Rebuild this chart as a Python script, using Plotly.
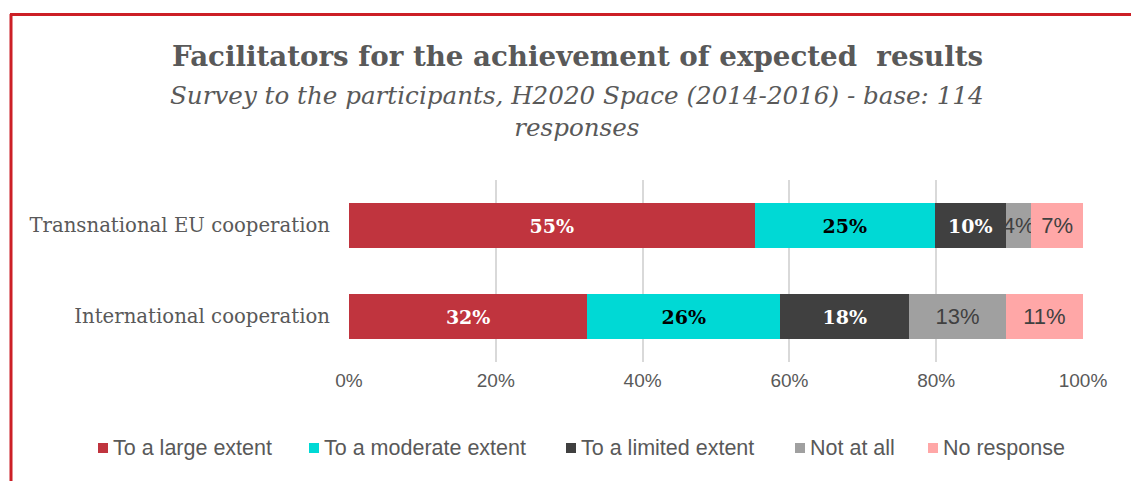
import plotly.graph_objects as go

# Survey results (share of 114 responses)
categories = ["Transnational EU cooperation", "International cooperation"]
series_names = ["To a large extent", "To a moderate extent", "To a limited extent",
                "Not at all", "No response"]
large_extent = [0.5526, 0.3246]
moderate_extent = [0.2456, 0.2632]
limited_extent = [0.0965, 0.1754]
not_at_all = [0.0351, 0.1316]
no_response = [0.0702, 0.1053]
x_ticks = [0, 0.2, 0.4, 0.6, 0.8, 1.0]
x_tick_labels = ["0%", "20%", "40%", "60%", "80%", "100%"]

series_values = [large_extent, moderate_extent, limited_extent, not_at_all, no_response]
colors = ["#C0343E", "#00D9D5", "#404040", "#A0A0A0", "#FFA7A7"]
label_fonts = [
    dict(family="DejaVu Serif", size=19, color="white", weight="bold"),
    dict(family="DejaVu Serif", size=19, color="black", weight="bold"),
    dict(family="DejaVu Serif", size=19, color="white", weight="bold"),
    dict(family="Liberation Sans", size=22, color="#404040"),
    dict(family="Liberation Sans", size=22, color="#404040"),
]

W, H = 1131, 481
L, R, T, B = 349, 48, 180, 119
PW, PH = W - L - R, H - T - B

# legend row: left edge of each swatch (px) and vertical centre
legend_swatch_x = [98, 309, 566, 795, 928]
legend_y = 448
swatch = 10


def px_x(x):
    return (x - L) / PW


def px_y(y):
    return (H - B - y) / PH


fig = go.Figure()
for name, vals, col, tf in zip(series_names, series_values, colors, label_fonts):
    fig.add_trace(go.Bar(
        name=name, y=categories, x=vals, orientation="h",
        marker=dict(color=col, line=dict(width=0)),
        texttemplate="%{x:.0%}", textposition="inside",
        insidetextanchor="middle", constraintext="none", textangle=0,
        textfont=tf, hoverinfo="skip", showlegend=False,
    ))

shapes = [
    dict(type="line", xref="paper", yref="paper", x0=px_x(11), x1=px_x(11),
         y0=px_y(14), y1=px_y(H + 2), line=dict(color="#CC1F26", width=3)),
    dict(type="line", xref="paper", yref="paper", x0=px_x(10), x1=px_x(W + 2),
         y0=px_y(14.5), y1=px_y(14.5), line=dict(color="#CC1F26", width=3)),
]
annotations = [
    dict(xref="paper", yref="paper", x=px_x(577), y=px_y(57), xanchor="center",
         yanchor="middle", showarrow=False,
         text="<b>Facilitators for the achievement of expected  results</b>",
         font=dict(family="DejaVu Serif", size=27.7, color="#595959")),
    dict(xref="paper", yref="paper", x=px_x(577), y=px_y(111.5), xanchor="center",
         yanchor="middle", showarrow=False,
         text="<i>Survey to the participants, H2020 Space (2014-2016) - base: 114<br>responses</i>",
         font=dict(family="DejaVu Serif", size=24.6, color="#595959")),
]

# legend: colour swatch followed by the series name
for name, col, sx in zip(series_names, colors, legend_swatch_x):
    shapes.append(dict(type="rect", xref="paper", yref="paper",
                       x0=px_x(sx), x1=px_x(sx + swatch),
                       y0=px_y(legend_y + swatch / 2), y1=px_y(legend_y - swatch / 2),
                       fillcolor=col, line=dict(width=0)))
    annotations.append(dict(xref="paper", yref="paper", x=px_x(sx + swatch + 3),
                            y=px_y(legend_y), xanchor="left", yanchor="middle",
                            showarrow=False, text=name,
                            font=dict(family="Liberation Sans", size=21.5, color="#595959")))

fig.update_layout(
    width=W, height=H,
    margin=dict(l=L, r=R, t=T, b=B, autoexpand=False),
    barmode="stack", bargap=0.505,
    paper_bgcolor="white", plot_bgcolor="white",
    showlegend=False,
    xaxis=dict(range=[0, 1], tickvals=x_ticks, ticktext=x_tick_labels,
               showgrid=True, gridcolor="#D9D9D9", gridwidth=2, zeroline=False,
               showline=False, ticks="", ticklabelstandoff=5,
               tickfont=dict(family="Liberation Sans", size=19, color="#595959")),
    yaxis=dict(autorange="reversed", showgrid=False, zeroline=False, showline=False,
               ticks="", ticklabelstandoff=18,
               tickfont=dict(family="DejaVu Serif", size=19.7, color="#595959")),
    annotations=annotations,
    shapes=shapes,
)

fig.write_html("out.html")
